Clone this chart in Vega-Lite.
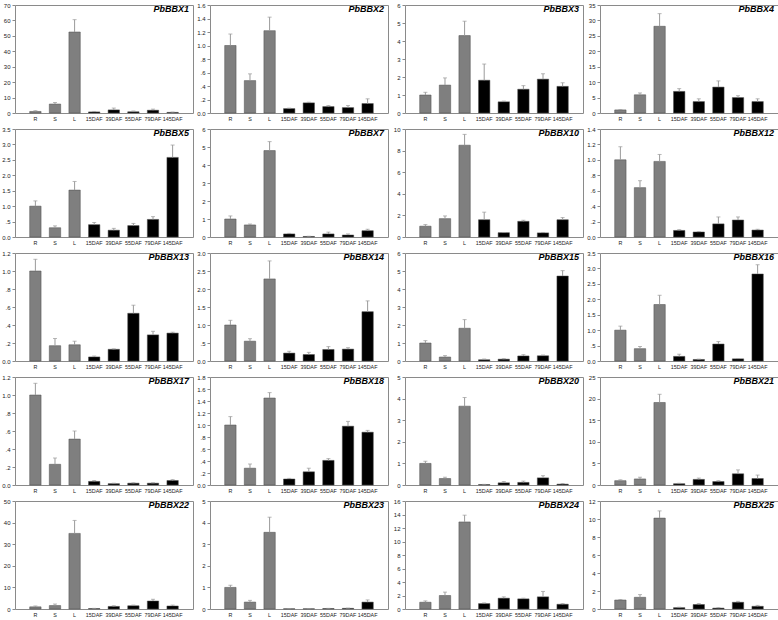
{
"$schema":"https://vega.github.io/schema/vega-lite/v6.json",
"padding":{"left":1,"top":1,"right":0,"bottom":0},
"background":"white",
"datasets":{"expr":[
{"gene":"PbBBX1","tissue":"R","value":1.0,"hi":1.5},{"gene":"PbBBX1","tissue":"S","value":5.8,"hi":6.8},{"gene":"PbBBX1","tissue":"L","value":52.5,"hi":60.5},{"gene":"PbBBX1","tissue":"15DAF","value":0.7,"hi":1.0},{"gene":"PbBBX1","tissue":"39DAF","value":2.0,"hi":3.2},{"gene":"PbBBX1","tissue":"55DAF","value":0.8,"hi":1.3},{"gene":"PbBBX1","tissue":"79DAF","value":1.8,"hi":2.5},{"gene":"PbBBX1","tissue":"145DAF","value":0.4,"hi":0.6},
{"gene":"PbBBX2","tissue":"R","value":1.0,"hi":1.17},{"gene":"PbBBX2","tissue":"S","value":0.48,"hi":0.58},{"gene":"PbBBX2","tissue":"L","value":1.22,"hi":1.42},{"gene":"PbBBX2","tissue":"15DAF","value":0.065,"hi":0.072},{"gene":"PbBBX2","tissue":"39DAF","value":0.15,"hi":0.16},{"gene":"PbBBX2","tissue":"55DAF","value":0.095,"hi":0.11},{"gene":"PbBBX2","tissue":"79DAF","value":0.08,"hi":0.11},{"gene":"PbBBX2","tissue":"145DAF","value":0.14,"hi":0.21},
{"gene":"PbBBX3","tissue":"R","value":1.0,"hi":1.15},{"gene":"PbBBX3","tissue":"S","value":1.55,"hi":1.95},{"gene":"PbBBX3","tissue":"L","value":4.3,"hi":5.1},{"gene":"PbBBX3","tissue":"15DAF","value":1.82,"hi":2.72},{"gene":"PbBBX3","tissue":"39DAF","value":0.62,"hi":0.66},{"gene":"PbBBX3","tissue":"55DAF","value":1.32,"hi":1.52},{"gene":"PbBBX3","tissue":"79DAF","value":1.88,"hi":2.18},{"gene":"PbBBX3","tissue":"145DAF","value":1.48,"hi":1.68},
{"gene":"PbBBX4","tissue":"R","value":1.0,"hi":1.1},{"gene":"PbBBX4","tissue":"S","value":5.9,"hi":6.5},{"gene":"PbBBX4","tissue":"L","value":28.1,"hi":32.2},{"gene":"PbBBX4","tissue":"15DAF","value":7.0,"hi":7.9},{"gene":"PbBBX4","tissue":"39DAF","value":3.7,"hi":4.6},{"gene":"PbBBX4","tissue":"55DAF","value":8.4,"hi":10.4},{"gene":"PbBBX4","tissue":"79DAF","value":5.0,"hi":5.6},{"gene":"PbBBX4","tissue":"145DAF","value":3.7,"hi":4.6},
{"gene":"PbBBX5","tissue":"R","value":1.0,"hi":1.17},{"gene":"PbBBX5","tissue":"S","value":0.3,"hi":0.36},{"gene":"PbBBX5","tissue":"L","value":1.52,"hi":1.8},{"gene":"PbBBX5","tissue":"15DAF","value":0.4,"hi":0.47},{"gene":"PbBBX5","tissue":"39DAF","value":0.22,"hi":0.28},{"gene":"PbBBX5","tissue":"55DAF","value":0.37,"hi":0.44},{"gene":"PbBBX5","tissue":"79DAF","value":0.57,"hi":0.66},{"gene":"PbBBX5","tissue":"145DAF","value":2.58,"hi":2.98},
{"gene":"PbBBX7","tissue":"R","value":1.0,"hi":1.17},{"gene":"PbBBX7","tissue":"S","value":0.67,"hi":0.72},{"gene":"PbBBX7","tissue":"L","value":4.8,"hi":5.3},{"gene":"PbBBX7","tissue":"15DAF","value":0.17,"hi":0.2},{"gene":"PbBBX7","tissue":"39DAF","value":0.03,"hi":0.04},{"gene":"PbBBX7","tissue":"55DAF","value":0.17,"hi":0.27},{"gene":"PbBBX7","tissue":"79DAF","value":0.11,"hi":0.17},{"gene":"PbBBX7","tissue":"145DAF","value":0.35,"hi":0.43},
{"gene":"PbBBX10","tissue":"R","value":1.0,"hi":1.15},{"gene":"PbBBX10","tissue":"S","value":1.7,"hi":1.95},{"gene":"PbBBX10","tissue":"L","value":8.5,"hi":9.5},{"gene":"PbBBX10","tissue":"15DAF","value":1.6,"hi":2.3},{"gene":"PbBBX10","tissue":"39DAF","value":0.4,"hi":0.42},{"gene":"PbBBX10","tissue":"55DAF","value":1.45,"hi":1.55},{"gene":"PbBBX10","tissue":"79DAF","value":0.38,"hi":0.42},{"gene":"PbBBX10","tissue":"145DAF","value":1.6,"hi":1.8},
{"gene":"PbBBX12","tissue":"R","value":1.0,"hi":1.17},{"gene":"PbBBX12","tissue":"S","value":0.64,"hi":0.73},{"gene":"PbBBX12","tissue":"L","value":0.98,"hi":1.07},{"gene":"PbBBX12","tissue":"15DAF","value":0.085,"hi":0.095},{"gene":"PbBBX12","tissue":"39DAF","value":0.065,"hi":0.07},{"gene":"PbBBX12","tissue":"55DAF","value":0.17,"hi":0.26},{"gene":"PbBBX12","tissue":"79DAF","value":0.22,"hi":0.26},{"gene":"PbBBX12","tissue":"145DAF","value":0.09,"hi":0.1},
{"gene":"PbBBX13","tissue":"R","value":1.0,"hi":1.13},{"gene":"PbBBX13","tissue":"S","value":0.17,"hi":0.25},{"gene":"PbBBX13","tissue":"L","value":0.18,"hi":0.22},{"gene":"PbBBX13","tissue":"15DAF","value":0.045,"hi":0.055},{"gene":"PbBBX13","tissue":"39DAF","value":0.13,"hi":0.135},{"gene":"PbBBX13","tissue":"55DAF","value":0.53,"hi":0.62},{"gene":"PbBBX13","tissue":"79DAF","value":0.29,"hi":0.33},{"gene":"PbBBX13","tissue":"145DAF","value":0.31,"hi":0.32},
{"gene":"PbBBX14","tissue":"R","value":1.0,"hi":1.13},{"gene":"PbBBX14","tissue":"S","value":0.55,"hi":0.62},{"gene":"PbBBX14","tissue":"L","value":2.28,"hi":2.78},{"gene":"PbBBX14","tissue":"15DAF","value":0.22,"hi":0.27},{"gene":"PbBBX14","tissue":"39DAF","value":0.18,"hi":0.24},{"gene":"PbBBX14","tissue":"55DAF","value":0.32,"hi":0.4},{"gene":"PbBBX14","tissue":"79DAF","value":0.33,"hi":0.37},{"gene":"PbBBX14","tissue":"145DAF","value":1.37,"hi":1.67},
{"gene":"PbBBX15","tissue":"R","value":1.0,"hi":1.13},{"gene":"PbBBX15","tissue":"S","value":0.22,"hi":0.3},{"gene":"PbBBX15","tissue":"L","value":1.82,"hi":2.3},{"gene":"PbBBX15","tissue":"15DAF","value":0.07,"hi":0.11},{"gene":"PbBBX15","tissue":"39DAF","value":0.1,"hi":0.13},{"gene":"PbBBX15","tissue":"55DAF","value":0.28,"hi":0.35},{"gene":"PbBBX15","tissue":"79DAF","value":0.29,"hi":0.33},{"gene":"PbBBX15","tissue":"145DAF","value":4.72,"hi":5.02},
{"gene":"PbBBX16","tissue":"R","value":1.0,"hi":1.13},{"gene":"PbBBX16","tissue":"S","value":0.4,"hi":0.47},{"gene":"PbBBX16","tissue":"L","value":1.83,"hi":2.13},{"gene":"PbBBX16","tissue":"15DAF","value":0.15,"hi":0.22},{"gene":"PbBBX16","tissue":"39DAF","value":0.05,"hi":0.06},{"gene":"PbBBX16","tissue":"55DAF","value":0.55,"hi":0.63},{"gene":"PbBBX16","tissue":"79DAF","value":0.07,"hi":0.08},{"gene":"PbBBX16","tissue":"145DAF","value":2.82,"hi":3.12},
{"gene":"PbBBX17","tissue":"R","value":1.0,"hi":1.13},{"gene":"PbBBX17","tissue":"S","value":0.23,"hi":0.3},{"gene":"PbBBX17","tissue":"L","value":0.51,"hi":0.6},{"gene":"PbBBX17","tissue":"15DAF","value":0.04,"hi":0.05},{"gene":"PbBBX17","tissue":"39DAF","value":0.015,"hi":0.02},{"gene":"PbBBX17","tissue":"55DAF","value":0.02,"hi":0.025},{"gene":"PbBBX17","tissue":"79DAF","value":0.02,"hi":0.025},{"gene":"PbBBX17","tissue":"145DAF","value":0.05,"hi":0.06},
{"gene":"PbBBX18","tissue":"R","value":1.0,"hi":1.14},{"gene":"PbBBX18","tissue":"S","value":0.28,"hi":0.35},{"gene":"PbBBX18","tissue":"L","value":1.45,"hi":1.54},{"gene":"PbBBX18","tissue":"15DAF","value":0.1,"hi":0.11},{"gene":"PbBBX18","tissue":"39DAF","value":0.22,"hi":0.28},{"gene":"PbBBX18","tissue":"55DAF","value":0.41,"hi":0.44},{"gene":"PbBBX18","tissue":"79DAF","value":0.98,"hi":1.06},{"gene":"PbBBX18","tissue":"145DAF","value":0.88,"hi":0.91},
{"gene":"PbBBX20","tissue":"R","value":1.0,"hi":1.1},{"gene":"PbBBX20","tissue":"S","value":0.3,"hi":0.36},{"gene":"PbBBX20","tissue":"L","value":3.65,"hi":4.05},{"gene":"PbBBX20","tissue":"15DAF","value":0.02,"hi":0.03},{"gene":"PbBBX20","tissue":"39DAF","value":0.1,"hi":0.16},{"gene":"PbBBX20","tissue":"55DAF","value":0.12,"hi":0.18},{"gene":"PbBBX20","tissue":"79DAF","value":0.33,"hi":0.43},{"gene":"PbBBX20","tissue":"145DAF","value":0.04,"hi":0.07},
{"gene":"PbBBX21","tissue":"R","value":1.0,"hi":1.2},{"gene":"PbBBX21","tissue":"S","value":1.4,"hi":1.8},{"gene":"PbBBX21","tissue":"L","value":19.1,"hi":21.0},{"gene":"PbBBX21","tissue":"15DAF","value":0.3,"hi":0.4},{"gene":"PbBBX21","tissue":"39DAF","value":1.3,"hi":1.6},{"gene":"PbBBX21","tissue":"55DAF","value":0.8,"hi":1.0},{"gene":"PbBBX21","tissue":"79DAF","value":2.6,"hi":3.5},{"gene":"PbBBX21","tissue":"145DAF","value":1.5,"hi":2.3},
{"gene":"PbBBX22","tissue":"R","value":1.0,"hi":1.4},{"gene":"PbBBX22","tissue":"S","value":1.6,"hi":2.3},{"gene":"PbBBX22","tissue":"L","value":35.0,"hi":41.0},{"gene":"PbBBX22","tissue":"15DAF","value":0.2,"hi":0.3},{"gene":"PbBBX22","tissue":"39DAF","value":1.2,"hi":1.5},{"gene":"PbBBX22","tissue":"55DAF","value":1.5,"hi":1.8},{"gene":"PbBBX22","tissue":"79DAF","value":3.7,"hi":4.5},{"gene":"PbBBX22","tissue":"145DAF","value":1.4,"hi":1.8},
{"gene":"PbBBX23","tissue":"R","value":1.0,"hi":1.1},{"gene":"PbBBX23","tissue":"S","value":0.32,"hi":0.4},{"gene":"PbBBX23","tissue":"L","value":3.55,"hi":4.25},{"gene":"PbBBX23","tissue":"15DAF","value":0.01,"hi":0.015},{"gene":"PbBBX23","tissue":"39DAF","value":0.01,"hi":0.015},{"gene":"PbBBX23","tissue":"55DAF","value":0.02,"hi":0.03},{"gene":"PbBBX23","tissue":"79DAF","value":0.03,"hi":0.04},{"gene":"PbBBX23","tissue":"145DAF","value":0.32,"hi":0.42},
{"gene":"PbBBX24","tissue":"R","value":1.0,"hi":1.2},{"gene":"PbBBX24","tissue":"S","value":2.0,"hi":2.5},{"gene":"PbBBX24","tissue":"L","value":12.9,"hi":13.9},{"gene":"PbBBX24","tissue":"15DAF","value":0.8,"hi":0.9},{"gene":"PbBBX24","tissue":"39DAF","value":1.6,"hi":1.8},{"gene":"PbBBX24","tissue":"55DAF","value":1.5,"hi":1.6},{"gene":"PbBBX24","tissue":"79DAF","value":1.8,"hi":2.6},{"gene":"PbBBX24","tissue":"145DAF","value":0.7,"hi":0.8},
{"gene":"PbBBX25","tissue":"R","value":1.0,"hi":1.05},{"gene":"PbBBX25","tissue":"S","value":1.3,"hi":1.6},{"gene":"PbBBX25","tissue":"L","value":10.1,"hi":10.9},{"gene":"PbBBX25","tissue":"15DAF","value":0.15,"hi":0.2},{"gene":"PbBBX25","tissue":"39DAF","value":0.5,"hi":0.6},{"gene":"PbBBX25","tissue":"55DAF","value":0.1,"hi":0.15},{"gene":"PbBBX25","tissue":"79DAF","value":0.75,"hi":0.85},{"gene":"PbBBX25","tissue":"145DAF","value":0.3,"hi":0.4}
]},
"data":{"name":"expr"},
"columns":4,
"spacing":{"row":16,"column":17},
"bounds":"flush",
"concat":[
{"title":"PbBBX1","width":178,"height":108,"transform":[{"filter":"datum.gene=='PbBBX1'"}],"encoding":{"x":{"field":"tissue","type":"nominal","sort":["R","S","L","15DAF","39DAF","55DAF","79DAF","145DAF"],"axis":{"title":null}},"y":{"field":"value","type":"quantitative","scale":{"domain":[0,70],"nice":false},"axis":{"title":null,"values":[0,10,20,30,40,50,60,70],"format":"d"}}},"layer":[{"mark":{"type":"bar","stroke":"#4d4d4d","strokeWidth":0.5},"encoding":{"color":{"condition":{"test":"indexof(datum.tissue,'DAF')>=0","value":"#000000"},"value":"#7f7f7f"}}},{"mark":{"type":"rule","color":"#9a9a9a"},"encoding":{"y2":{"field":"hi"}}},{"mark":{"type":"tick","color":"#9a9a9a","size":4,"thickness":1},"encoding":{"y":{"field":"hi","type":"quantitative","scale":{"domain":[0,70],"nice":false},"axis":{"title":null,"values":[0,10,20,30,40,50,60,70],"format":"d"}}}}]},
{"title":"PbBBX2","width":178,"height":108,"transform":[{"filter":"datum.gene=='PbBBX2'"}],"encoding":{"x":{"field":"tissue","type":"nominal","sort":["R","S","L","15DAF","39DAF","55DAF","79DAF","145DAF"],"axis":{"title":null}},"y":{"field":"value","type":"quantitative","scale":{"domain":[0,1.6],"nice":false},"axis":{"title":null,"values":[0,0.2,0.4,0.6,0.8,1.0,1.2,1.4,1.6],"format":".1f"}}},"layer":[{"mark":{"type":"bar","stroke":"#4d4d4d","strokeWidth":0.5},"encoding":{"color":{"condition":{"test":"indexof(datum.tissue,'DAF')>=0","value":"#000000"},"value":"#7f7f7f"}}},{"mark":{"type":"rule","color":"#9a9a9a"},"encoding":{"y2":{"field":"hi"}}},{"mark":{"type":"tick","color":"#9a9a9a","size":4,"thickness":1},"encoding":{"y":{"field":"hi","type":"quantitative","scale":{"domain":[0,1.6],"nice":false},"axis":{"title":null,"values":[0,0.2,0.4,0.6,0.8,1.0,1.2,1.4,1.6],"format":".1f"}}}}]},
{"title":"PbBBX3","width":178,"height":108,"transform":[{"filter":"datum.gene=='PbBBX3'"}],"encoding":{"x":{"field":"tissue","type":"nominal","sort":["R","S","L","15DAF","39DAF","55DAF","79DAF","145DAF"],"axis":{"title":null}},"y":{"field":"value","type":"quantitative","scale":{"domain":[0,6],"nice":false},"axis":{"title":null,"values":[0,1,2,3,4,5,6],"format":"d"}}},"layer":[{"mark":{"type":"bar","stroke":"#4d4d4d","strokeWidth":0.5},"encoding":{"color":{"condition":{"test":"indexof(datum.tissue,'DAF')>=0","value":"#000000"},"value":"#7f7f7f"}}},{"mark":{"type":"rule","color":"#9a9a9a"},"encoding":{"y2":{"field":"hi"}}},{"mark":{"type":"tick","color":"#9a9a9a","size":4,"thickness":1},"encoding":{"y":{"field":"hi","type":"quantitative","scale":{"domain":[0,6],"nice":false},"axis":{"title":null,"values":[0,1,2,3,4,5,6],"format":"d"}}}}]},
{"title":"PbBBX4","width":178,"height":108,"transform":[{"filter":"datum.gene=='PbBBX4'"}],"encoding":{"x":{"field":"tissue","type":"nominal","sort":["R","S","L","15DAF","39DAF","55DAF","79DAF","145DAF"],"axis":{"title":null}},"y":{"field":"value","type":"quantitative","scale":{"domain":[0,35],"nice":false},"axis":{"title":null,"values":[0,5,10,15,20,25,30,35],"format":"d"}}},"layer":[{"mark":{"type":"bar","stroke":"#4d4d4d","strokeWidth":0.5},"encoding":{"color":{"condition":{"test":"indexof(datum.tissue,'DAF')>=0","value":"#000000"},"value":"#7f7f7f"}}},{"mark":{"type":"rule","color":"#9a9a9a"},"encoding":{"y2":{"field":"hi"}}},{"mark":{"type":"tick","color":"#9a9a9a","size":4,"thickness":1},"encoding":{"y":{"field":"hi","type":"quantitative","scale":{"domain":[0,35],"nice":false},"axis":{"title":null,"values":[0,5,10,15,20,25,30,35],"format":"d"}}}}]},
{"title":"PbBBX5","width":178,"height":108,"transform":[{"filter":"datum.gene=='PbBBX5'"}],"encoding":{"x":{"field":"tissue","type":"nominal","sort":["R","S","L","15DAF","39DAF","55DAF","79DAF","145DAF"],"axis":{"title":null}},"y":{"field":"value","type":"quantitative","scale":{"domain":[0,3.5],"nice":false},"axis":{"title":null,"values":[0,0.5,1.0,1.5,2.0,2.5,3.0,3.5],"format":".1f"}}},"layer":[{"mark":{"type":"bar","stroke":"#4d4d4d","strokeWidth":0.5},"encoding":{"color":{"condition":{"test":"indexof(datum.tissue,'DAF')>=0","value":"#000000"},"value":"#7f7f7f"}}},{"mark":{"type":"rule","color":"#9a9a9a"},"encoding":{"y2":{"field":"hi"}}},{"mark":{"type":"tick","color":"#9a9a9a","size":4,"thickness":1},"encoding":{"y":{"field":"hi","type":"quantitative","scale":{"domain":[0,3.5],"nice":false},"axis":{"title":null,"values":[0,0.5,1.0,1.5,2.0,2.5,3.0,3.5],"format":".1f"}}}}]},
{"title":"PbBBX7","width":178,"height":108,"transform":[{"filter":"datum.gene=='PbBBX7'"}],"encoding":{"x":{"field":"tissue","type":"nominal","sort":["R","S","L","15DAF","39DAF","55DAF","79DAF","145DAF"],"axis":{"title":null}},"y":{"field":"value","type":"quantitative","scale":{"domain":[0,6],"nice":false},"axis":{"title":null,"values":[0,1,2,3,4,5,6],"format":"d"}}},"layer":[{"mark":{"type":"bar","stroke":"#4d4d4d","strokeWidth":0.5},"encoding":{"color":{"condition":{"test":"indexof(datum.tissue,'DAF')>=0","value":"#000000"},"value":"#7f7f7f"}}},{"mark":{"type":"rule","color":"#9a9a9a"},"encoding":{"y2":{"field":"hi"}}},{"mark":{"type":"tick","color":"#9a9a9a","size":4,"thickness":1},"encoding":{"y":{"field":"hi","type":"quantitative","scale":{"domain":[0,6],"nice":false},"axis":{"title":null,"values":[0,1,2,3,4,5,6],"format":"d"}}}}]},
{"title":"PbBBX10","width":178,"height":108,"transform":[{"filter":"datum.gene=='PbBBX10'"}],"encoding":{"x":{"field":"tissue","type":"nominal","sort":["R","S","L","15DAF","39DAF","55DAF","79DAF","145DAF"],"axis":{"title":null}},"y":{"field":"value","type":"quantitative","scale":{"domain":[0,10],"nice":false},"axis":{"title":null,"values":[0,2,4,6,8,10],"format":"d"}}},"layer":[{"mark":{"type":"bar","stroke":"#4d4d4d","strokeWidth":0.5},"encoding":{"color":{"condition":{"test":"indexof(datum.tissue,'DAF')>=0","value":"#000000"},"value":"#7f7f7f"}}},{"mark":{"type":"rule","color":"#9a9a9a"},"encoding":{"y2":{"field":"hi"}}},{"mark":{"type":"tick","color":"#9a9a9a","size":4,"thickness":1},"encoding":{"y":{"field":"hi","type":"quantitative","scale":{"domain":[0,10],"nice":false},"axis":{"title":null,"values":[0,2,4,6,8,10],"format":"d"}}}}]},
{"title":"PbBBX12","width":178,"height":108,"transform":[{"filter":"datum.gene=='PbBBX12'"}],"encoding":{"x":{"field":"tissue","type":"nominal","sort":["R","S","L","15DAF","39DAF","55DAF","79DAF","145DAF"],"axis":{"title":null}},"y":{"field":"value","type":"quantitative","scale":{"domain":[0,1.4],"nice":false},"axis":{"title":null,"values":[0,0.2,0.4,0.6,0.8,1.0,1.2,1.4],"format":".1f"}}},"layer":[{"mark":{"type":"bar","stroke":"#4d4d4d","strokeWidth":0.5},"encoding":{"color":{"condition":{"test":"indexof(datum.tissue,'DAF')>=0","value":"#000000"},"value":"#7f7f7f"}}},{"mark":{"type":"rule","color":"#9a9a9a"},"encoding":{"y2":{"field":"hi"}}},{"mark":{"type":"tick","color":"#9a9a9a","size":4,"thickness":1},"encoding":{"y":{"field":"hi","type":"quantitative","scale":{"domain":[0,1.4],"nice":false},"axis":{"title":null,"values":[0,0.2,0.4,0.6,0.8,1.0,1.2,1.4],"format":".1f"}}}}]},
{"title":"PbBBX13","width":178,"height":108,"transform":[{"filter":"datum.gene=='PbBBX13'"}],"encoding":{"x":{"field":"tissue","type":"nominal","sort":["R","S","L","15DAF","39DAF","55DAF","79DAF","145DAF"],"axis":{"title":null}},"y":{"field":"value","type":"quantitative","scale":{"domain":[0,1.2],"nice":false},"axis":{"title":null,"values":[0,0.2,0.4,0.6,0.8,1.0,1.2],"format":".1f"}}},"layer":[{"mark":{"type":"bar","stroke":"#4d4d4d","strokeWidth":0.5},"encoding":{"color":{"condition":{"test":"indexof(datum.tissue,'DAF')>=0","value":"#000000"},"value":"#7f7f7f"}}},{"mark":{"type":"rule","color":"#9a9a9a"},"encoding":{"y2":{"field":"hi"}}},{"mark":{"type":"tick","color":"#9a9a9a","size":4,"thickness":1},"encoding":{"y":{"field":"hi","type":"quantitative","scale":{"domain":[0,1.2],"nice":false},"axis":{"title":null,"values":[0,0.2,0.4,0.6,0.8,1.0,1.2],"format":".1f"}}}}]},
{"title":"PbBBX14","width":178,"height":108,"transform":[{"filter":"datum.gene=='PbBBX14'"}],"encoding":{"x":{"field":"tissue","type":"nominal","sort":["R","S","L","15DAF","39DAF","55DAF","79DAF","145DAF"],"axis":{"title":null}},"y":{"field":"value","type":"quantitative","scale":{"domain":[0,3],"nice":false},"axis":{"title":null,"values":[0,0.5,1.0,1.5,2.0,2.5,3.0],"format":".1f"}}},"layer":[{"mark":{"type":"bar","stroke":"#4d4d4d","strokeWidth":0.5},"encoding":{"color":{"condition":{"test":"indexof(datum.tissue,'DAF')>=0","value":"#000000"},"value":"#7f7f7f"}}},{"mark":{"type":"rule","color":"#9a9a9a"},"encoding":{"y2":{"field":"hi"}}},{"mark":{"type":"tick","color":"#9a9a9a","size":4,"thickness":1},"encoding":{"y":{"field":"hi","type":"quantitative","scale":{"domain":[0,3],"nice":false},"axis":{"title":null,"values":[0,0.5,1.0,1.5,2.0,2.5,3.0],"format":".1f"}}}}]},
{"title":"PbBBX15","width":178,"height":108,"transform":[{"filter":"datum.gene=='PbBBX15'"}],"encoding":{"x":{"field":"tissue","type":"nominal","sort":["R","S","L","15DAF","39DAF","55DAF","79DAF","145DAF"],"axis":{"title":null}},"y":{"field":"value","type":"quantitative","scale":{"domain":[0,6],"nice":false},"axis":{"title":null,"values":[0,1,2,3,4,5,6],"format":"d"}}},"layer":[{"mark":{"type":"bar","stroke":"#4d4d4d","strokeWidth":0.5},"encoding":{"color":{"condition":{"test":"indexof(datum.tissue,'DAF')>=0","value":"#000000"},"value":"#7f7f7f"}}},{"mark":{"type":"rule","color":"#9a9a9a"},"encoding":{"y2":{"field":"hi"}}},{"mark":{"type":"tick","color":"#9a9a9a","size":4,"thickness":1},"encoding":{"y":{"field":"hi","type":"quantitative","scale":{"domain":[0,6],"nice":false},"axis":{"title":null,"values":[0,1,2,3,4,5,6],"format":"d"}}}}]},
{"title":"PbBBX16","width":178,"height":108,"transform":[{"filter":"datum.gene=='PbBBX16'"}],"encoding":{"x":{"field":"tissue","type":"nominal","sort":["R","S","L","15DAF","39DAF","55DAF","79DAF","145DAF"],"axis":{"title":null}},"y":{"field":"value","type":"quantitative","scale":{"domain":[0,3.5],"nice":false},"axis":{"title":null,"values":[0,0.5,1.0,1.5,2.0,2.5,3.0,3.5],"format":".1f"}}},"layer":[{"mark":{"type":"bar","stroke":"#4d4d4d","strokeWidth":0.5},"encoding":{"color":{"condition":{"test":"indexof(datum.tissue,'DAF')>=0","value":"#000000"},"value":"#7f7f7f"}}},{"mark":{"type":"rule","color":"#9a9a9a"},"encoding":{"y2":{"field":"hi"}}},{"mark":{"type":"tick","color":"#9a9a9a","size":4,"thickness":1},"encoding":{"y":{"field":"hi","type":"quantitative","scale":{"domain":[0,3.5],"nice":false},"axis":{"title":null,"values":[0,0.5,1.0,1.5,2.0,2.5,3.0,3.5],"format":".1f"}}}}]},
{"title":"PbBBX17","width":178,"height":108,"transform":[{"filter":"datum.gene=='PbBBX17'"}],"encoding":{"x":{"field":"tissue","type":"nominal","sort":["R","S","L","15DAF","39DAF","55DAF","79DAF","145DAF"],"axis":{"title":null}},"y":{"field":"value","type":"quantitative","scale":{"domain":[0,1.2],"nice":false},"axis":{"title":null,"values":[0,0.2,0.4,0.6,0.8,1.0,1.2],"format":".1f"}}},"layer":[{"mark":{"type":"bar","stroke":"#4d4d4d","strokeWidth":0.5},"encoding":{"color":{"condition":{"test":"indexof(datum.tissue,'DAF')>=0","value":"#000000"},"value":"#7f7f7f"}}},{"mark":{"type":"rule","color":"#9a9a9a"},"encoding":{"y2":{"field":"hi"}}},{"mark":{"type":"tick","color":"#9a9a9a","size":4,"thickness":1},"encoding":{"y":{"field":"hi","type":"quantitative","scale":{"domain":[0,1.2],"nice":false},"axis":{"title":null,"values":[0,0.2,0.4,0.6,0.8,1.0,1.2],"format":".1f"}}}}]},
{"title":"PbBBX18","width":178,"height":108,"transform":[{"filter":"datum.gene=='PbBBX18'"}],"encoding":{"x":{"field":"tissue","type":"nominal","sort":["R","S","L","15DAF","39DAF","55DAF","79DAF","145DAF"],"axis":{"title":null}},"y":{"field":"value","type":"quantitative","scale":{"domain":[0,1.8],"nice":false},"axis":{"title":null,"values":[0,0.2,0.4,0.6,0.8,1.0,1.2,1.4,1.6,1.8],"format":".1f"}}},"layer":[{"mark":{"type":"bar","stroke":"#4d4d4d","strokeWidth":0.5},"encoding":{"color":{"condition":{"test":"indexof(datum.tissue,'DAF')>=0","value":"#000000"},"value":"#7f7f7f"}}},{"mark":{"type":"rule","color":"#9a9a9a"},"encoding":{"y2":{"field":"hi"}}},{"mark":{"type":"tick","color":"#9a9a9a","size":4,"thickness":1},"encoding":{"y":{"field":"hi","type":"quantitative","scale":{"domain":[0,1.8],"nice":false},"axis":{"title":null,"values":[0,0.2,0.4,0.6,0.8,1.0,1.2,1.4,1.6,1.8],"format":".1f"}}}}]},
{"title":"PbBBX20","width":178,"height":108,"transform":[{"filter":"datum.gene=='PbBBX20'"}],"encoding":{"x":{"field":"tissue","type":"nominal","sort":["R","S","L","15DAF","39DAF","55DAF","79DAF","145DAF"],"axis":{"title":null}},"y":{"field":"value","type":"quantitative","scale":{"domain":[0,5],"nice":false},"axis":{"title":null,"values":[0,1,2,3,4,5],"format":"d"}}},"layer":[{"mark":{"type":"bar","stroke":"#4d4d4d","strokeWidth":0.5},"encoding":{"color":{"condition":{"test":"indexof(datum.tissue,'DAF')>=0","value":"#000000"},"value":"#7f7f7f"}}},{"mark":{"type":"rule","color":"#9a9a9a"},"encoding":{"y2":{"field":"hi"}}},{"mark":{"type":"tick","color":"#9a9a9a","size":4,"thickness":1},"encoding":{"y":{"field":"hi","type":"quantitative","scale":{"domain":[0,5],"nice":false},"axis":{"title":null,"values":[0,1,2,3,4,5],"format":"d"}}}}]},
{"title":"PbBBX21","width":178,"height":108,"transform":[{"filter":"datum.gene=='PbBBX21'"}],"encoding":{"x":{"field":"tissue","type":"nominal","sort":["R","S","L","15DAF","39DAF","55DAF","79DAF","145DAF"],"axis":{"title":null}},"y":{"field":"value","type":"quantitative","scale":{"domain":[0,25],"nice":false},"axis":{"title":null,"values":[0,5,10,15,20,25],"format":"d"}}},"layer":[{"mark":{"type":"bar","stroke":"#4d4d4d","strokeWidth":0.5},"encoding":{"color":{"condition":{"test":"indexof(datum.tissue,'DAF')>=0","value":"#000000"},"value":"#7f7f7f"}}},{"mark":{"type":"rule","color":"#9a9a9a"},"encoding":{"y2":{"field":"hi"}}},{"mark":{"type":"tick","color":"#9a9a9a","size":4,"thickness":1},"encoding":{"y":{"field":"hi","type":"quantitative","scale":{"domain":[0,25],"nice":false},"axis":{"title":null,"values":[0,5,10,15,20,25],"format":"d"}}}}]},
{"title":"PbBBX22","width":178,"height":108,"transform":[{"filter":"datum.gene=='PbBBX22'"}],"encoding":{"x":{"field":"tissue","type":"nominal","sort":["R","S","L","15DAF","39DAF","55DAF","79DAF","145DAF"],"axis":{"title":null}},"y":{"field":"value","type":"quantitative","scale":{"domain":[0,50],"nice":false},"axis":{"title":null,"values":[0,10,20,30,40,50],"format":"d"}}},"layer":[{"mark":{"type":"bar","stroke":"#4d4d4d","strokeWidth":0.5},"encoding":{"color":{"condition":{"test":"indexof(datum.tissue,'DAF')>=0","value":"#000000"},"value":"#7f7f7f"}}},{"mark":{"type":"rule","color":"#9a9a9a"},"encoding":{"y2":{"field":"hi"}}},{"mark":{"type":"tick","color":"#9a9a9a","size":4,"thickness":1},"encoding":{"y":{"field":"hi","type":"quantitative","scale":{"domain":[0,50],"nice":false},"axis":{"title":null,"values":[0,10,20,30,40,50],"format":"d"}}}}]},
{"title":"PbBBX23","width":178,"height":108,"transform":[{"filter":"datum.gene=='PbBBX23'"}],"encoding":{"x":{"field":"tissue","type":"nominal","sort":["R","S","L","15DAF","39DAF","55DAF","79DAF","145DAF"],"axis":{"title":null}},"y":{"field":"value","type":"quantitative","scale":{"domain":[0,5],"nice":false},"axis":{"title":null,"values":[0,1,2,3,4,5],"format":"d"}}},"layer":[{"mark":{"type":"bar","stroke":"#4d4d4d","strokeWidth":0.5},"encoding":{"color":{"condition":{"test":"indexof(datum.tissue,'DAF')>=0","value":"#000000"},"value":"#7f7f7f"}}},{"mark":{"type":"rule","color":"#9a9a9a"},"encoding":{"y2":{"field":"hi"}}},{"mark":{"type":"tick","color":"#9a9a9a","size":4,"thickness":1},"encoding":{"y":{"field":"hi","type":"quantitative","scale":{"domain":[0,5],"nice":false},"axis":{"title":null,"values":[0,1,2,3,4,5],"format":"d"}}}}]},
{"title":"PbBBX24","width":178,"height":108,"transform":[{"filter":"datum.gene=='PbBBX24'"}],"encoding":{"x":{"field":"tissue","type":"nominal","sort":["R","S","L","15DAF","39DAF","55DAF","79DAF","145DAF"],"axis":{"title":null}},"y":{"field":"value","type":"quantitative","scale":{"domain":[0,16],"nice":false},"axis":{"title":null,"values":[0,2,4,6,8,10,12,14,16],"format":"d"}}},"layer":[{"mark":{"type":"bar","stroke":"#4d4d4d","strokeWidth":0.5},"encoding":{"color":{"condition":{"test":"indexof(datum.tissue,'DAF')>=0","value":"#000000"},"value":"#7f7f7f"}}},{"mark":{"type":"rule","color":"#9a9a9a"},"encoding":{"y2":{"field":"hi"}}},{"mark":{"type":"tick","color":"#9a9a9a","size":4,"thickness":1},"encoding":{"y":{"field":"hi","type":"quantitative","scale":{"domain":[0,16],"nice":false},"axis":{"title":null,"values":[0,2,4,6,8,10,12,14,16],"format":"d"}}}}]},
{"title":"PbBBX25","width":178,"height":108,"transform":[{"filter":"datum.gene=='PbBBX25'"}],"encoding":{"x":{"field":"tissue","type":"nominal","sort":["R","S","L","15DAF","39DAF","55DAF","79DAF","145DAF"],"axis":{"title":null}},"y":{"field":"value","type":"quantitative","scale":{"domain":[0,12],"nice":false},"axis":{"title":null,"values":[0,2,4,6,8,10,12],"format":"d"}}},"layer":[{"mark":{"type":"bar","stroke":"#4d4d4d","strokeWidth":0.5},"encoding":{"color":{"condition":{"test":"indexof(datum.tissue,'DAF')>=0","value":"#000000"},"value":"#7f7f7f"}}},{"mark":{"type":"rule","color":"#9a9a9a"},"encoding":{"y2":{"field":"hi"}}},{"mark":{"type":"tick","color":"#9a9a9a","size":4,"thickness":1},"encoding":{"y":{"field":"hi","type":"quantitative","scale":{"domain":[0,12],"nice":false},"axis":{"title":null,"values":[0,2,4,6,8,10,12],"format":"d"}}}}]}
],
"config":{
"font":"Liberation Sans",
"view":{"stroke":"#8a8a8a","strokeWidth":1},
"scale":{"bandPaddingInner":0.42,"bandPaddingOuter":0.75},
"axis":{"grid":false,"labelFont":"Liberation Sans","labelFontSize":6,"labelColor":"#222222","domain":false},
"axisX":{"ticks":false,"labelPadding":3,"labelAngle":0,"labelOverlap":false,"labelBound":false,"labelFlush":false,"labelFontSize":5.4},
"axisY":{"ticks":true,"tickSize":3,"tickColor":"#8a8a8a","labelPadding":2,"labelExpr":"datum.value == 0 ? datum.label : (substring(datum.label,0,2) == '0.' ? substring(datum.label,1) : datum.label)"},
"title":{"anchor":"end","offset":-12,"dx":-4,"fontSize":9,"fontStyle":"italic","fontWeight":"bold","font":"Liberation Sans","color":"#000000"}
}
}
